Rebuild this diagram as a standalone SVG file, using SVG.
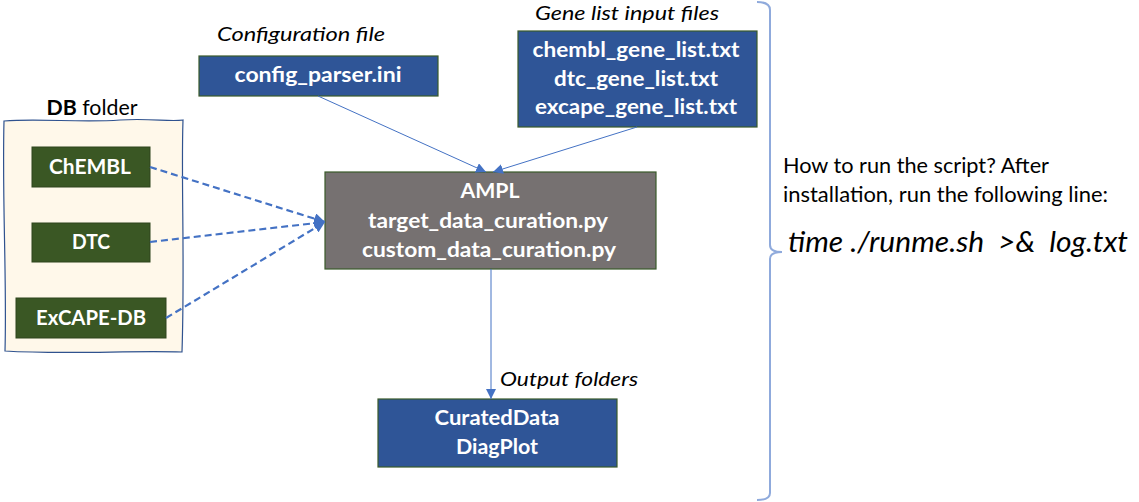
<svg xmlns="http://www.w3.org/2000/svg" width="1139" height="502" viewBox="0 0 1139 502">
<style>
.bl{fill:#2F5597;stroke:#3A5A2A;stroke-width:1.2}
.gr{fill:#3A5724;stroke:#2E451C;stroke-width:1}
.gy{fill:#767171;stroke:#3A5A2A;stroke-width:1.2}
.bt{font-family:Lato,"Liberation Sans",Arial,sans-serif;font-weight:bold;font-size:21px;fill:#FFFFFF;text-anchor:middle}
.it{font-family:Lato,"Liberation Sans",Arial,sans-serif;font-style:italic;font-size:20px;fill:#000000}
.rt{font-family:Lato,"Liberation Sans",Arial,sans-serif;font-size:21px;fill:#000000}
.big{font-size:29px}
.sl{stroke:#4472C4;stroke-width:1;fill:none}
.dl{stroke:#4472C4;stroke-width:2.2;fill:none;stroke-dasharray:7 4}
</style>
<defs>
<marker id="as" viewBox="0 0 10 10" refX="10" refY="5" markerWidth="10" markerHeight="10" markerUnits="userSpaceOnUse" orient="auto"><path d="M0,0 L10,5 L0,10 z" fill="#4472C4"/></marker>
<marker id="ad" viewBox="0 0 10 10" refX="10" refY="5" markerWidth="11" markerHeight="11" markerUnits="userSpaceOnUse" orient="auto"><path d="M0,0 L10,5 L0,10 z" fill="#4472C4"/></marker>
</defs>
<g id="db-folder">
<path d="M4,121 C40,118 80,123 120,120 C150,118 170,122 183,120 C181,180 185,260 182,352 C130,350 70,355 5,351 C7,280 2,200 4,121 Z" fill="#FFF8EA" stroke="#2F528F" stroke-width="1.2"/>
<text x="92" y="115" class="rt" text-anchor="middle" textLength="91" lengthAdjust="spacingAndGlyphs"><tspan font-weight="bold">DB</tspan> folder</text>
</g>
<g id="chembl">
<rect x="32" y="147" width="118" height="40" class="gr"/>
<text x="90" y="174" class="bt" textLength="82" lengthAdjust="spacingAndGlyphs">ChEMBL</text>
</g>
<g id="dtc">
<rect x="32" y="223" width="118" height="39" class="gr"/>
<text x="91" y="249" class="bt" textLength="38" lengthAdjust="spacingAndGlyphs">DTC</text>
</g>
<g id="excape">
<rect x="16" y="298" width="150" height="40" class="gr"/>
<text x="91" y="325" class="bt" textLength="110" lengthAdjust="spacingAndGlyphs">ExCAPE-DB</text>
</g>
<g id="config">
<text x="217" y="41" class="it" textLength="168" lengthAdjust="spacingAndGlyphs">Configuration file</text>
<rect x="199" y="56" width="239" height="40" class="bl"/>
<text x="318" y="82" class="bt" textLength="167" lengthAdjust="spacingAndGlyphs">config_parser.ini</text>
</g>
<g id="gene-lists">
<text x="535" y="20" class="it" textLength="184" lengthAdjust="spacingAndGlyphs">Gene list input files</text>
<rect x="518" y="31" width="239" height="96" class="bl"/>
<text x="636" y="57" class="bt" textLength="207" lengthAdjust="spacingAndGlyphs">chembl_gene_list.txt</text>
<text x="636" y="86" class="bt" textLength="164" lengthAdjust="spacingAndGlyphs">dtc_gene_list.txt</text>
<text x="636" y="114" class="bt" textLength="202" lengthAdjust="spacingAndGlyphs">excape_gene_list.txt</text>
</g>
<g id="ampl">
<rect x="325" y="172" width="331" height="97" class="gy"/>
<text x="490" y="198" class="bt" textLength="59" lengthAdjust="spacingAndGlyphs">AMPL</text>
<text x="488" y="228" class="bt" textLength="240" lengthAdjust="spacingAndGlyphs">target_data_curation.py</text>
<text x="489" y="257" class="bt" textLength="254" lengthAdjust="spacingAndGlyphs">custom_data_curation.py</text>
</g>
<g id="output">
<text x="500" y="386" class="it" textLength="138" lengthAdjust="spacingAndGlyphs">Output folders</text>
<rect x="378" y="399" width="239" height="68" class="bl"/>
<text x="497" y="425" class="bt" textLength="125" lengthAdjust="spacingAndGlyphs">CuratedData</text>
<text x="497" y="454" class="bt" textLength="82" lengthAdjust="spacingAndGlyphs">DiagPlot</text>
</g>
<g id="note">
<path d="M757,2 Q770,2 770,10 L770,245 Q770,252 782,252 Q770,252 770,259 L770,493 Q770,500 757,500" fill="none" stroke="#8FAADC" stroke-width="2"/>
<text x="783" y="173" class="rt" textLength="266" lengthAdjust="spacingAndGlyphs">How to run the script? After</text>
<text x="783" y="202" class="rt" textLength="325" lengthAdjust="spacingAndGlyphs">installation, run the following line:</text>
<text x="788" y="252" class="it big" textLength="340" lengthAdjust="spacingAndGlyphs" xml:space="preserve">time ./runme.sh  &gt;&amp;  log.txt</text>
</g>
<g id="connectors">
<line x1="318" y1="96" x2="486" y2="172" class="sl" marker-end="url(#as)"/>
<line x1="637" y1="127" x2="493" y2="172" class="sl" marker-end="url(#as)"/>
<line x1="491" y1="269" x2="491" y2="399" class="sl" marker-end="url(#as)"/>
<line x1="150" y1="167" x2="325" y2="222" class="dl" marker-end="url(#ad)"/>
<line x1="150" y1="242" x2="325" y2="222" class="dl" marker-end="url(#ad)"/>
<line x1="166" y1="318" x2="325" y2="222" class="dl" marker-end="url(#ad)"/>
</g>
</svg>
